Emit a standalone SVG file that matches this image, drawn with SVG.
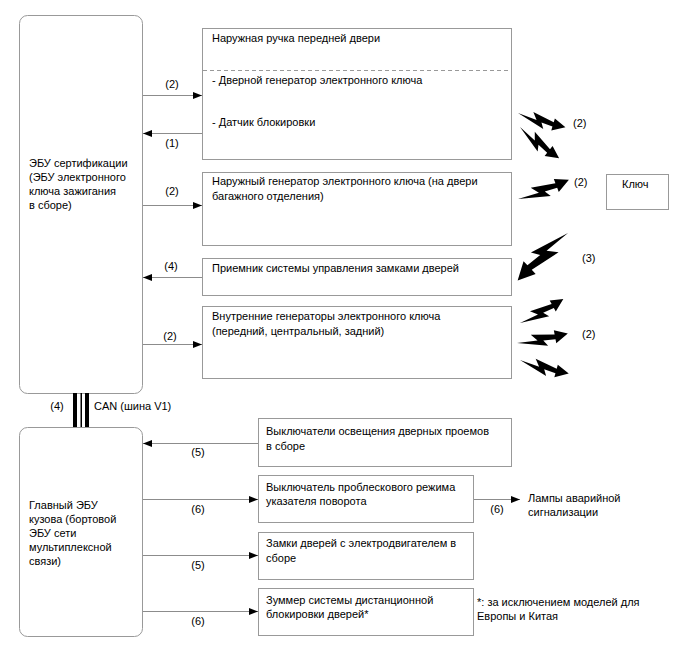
<svg xmlns="http://www.w3.org/2000/svg" width="688" height="658" viewBox="0 0 688 658">
<style>
.box{fill:#fff;stroke:#999;stroke-width:1}
.ecu{fill:#fff;stroke:#999;stroke-width:1}
.t{font-family:"Liberation Sans",Arial,sans-serif;font-size:11px;fill:#000}
.ln{stroke:#8c8c8c;stroke-width:1;fill:none}
.dash{stroke:#999;stroke-width:1;stroke-dasharray:4 3;fill:none}
.bolt{fill:#000}
</style>
<defs>
<marker id="ah" markerUnits="userSpaceOnUse" markerWidth="10" markerHeight="8" refX="9" refY="3.5" orient="auto">
<path d="M0,0 L9,3.5 L0,7 Z" fill="#000"/>
</marker>
<path id="bolt" d="M0,0 L32,9 L28,2.5 L41,3.5 L41,8 L55,0 L41,-6 L41,-1.5 L16,-6 L22,1.5 Z"/>
</defs>
<rect width="688" height="658" fill="#fff"/>

<g id="ecu-cert">
<rect class="ecu" x="19.5" y="15.5" width="123" height="378" rx="8"/>
<text class="t" x="29" y="167">ЭБУ сертификации</text>
<text class="t" x="29" y="181">(ЭБУ электронного</text>
<text class="t" x="29" y="195">ключа зажигания</text>
<text class="t" x="29" y="209">в сборе)</text>
</g>

<g id="ecu-body">
<rect class="ecu" x="19.5" y="427.5" width="123" height="209" rx="8"/>
<text class="t" x="29" y="509">Главный ЭБУ</text>
<text class="t" x="29" y="523">кузова (бортовой</text>
<text class="t" x="29" y="537">ЭБУ сети</text>
<text class="t" x="29" y="551">мультиплексной</text>
<text class="t" x="29" y="565">связи)</text>
</g>

<g id="handle">
<rect class="box" x="202.5" y="28.5" width="309" height="131"/>
<line class="dash" x1="203" y1="70.5" x2="511" y2="70.5"/>
<text class="t" x="212" y="42">Наружная ручка передней двери</text>
<text class="t" x="212" y="84">- Дверной генератор электронного ключа</text>
<text class="t" x="212" y="126">- Датчик блокировки</text>
</g>

<g id="rear-gen">
<rect class="box" x="202.5" y="172.5" width="309" height="73"/>
<text class="t" x="212" y="185">Наружный генератор электронного ключа (на двери</text>
<text class="t" x="212" y="200">багажного отделения)</text>
</g>

<g id="receiver">
<rect class="box" x="202.5" y="258.5" width="309" height="37"/>
<text class="t" x="212" y="272">Приемник системы управления замками дверей</text>
</g>

<g id="inner-gen">
<rect class="box" x="202.5" y="306.5" width="309" height="72"/>
<text class="t" x="212" y="320">Внутренние генераторы электронного ключа</text>
<text class="t" x="212" y="335">(передний, центральный, задний)</text>
</g>

<g id="key">
<rect class="box" x="606.5" y="174.5" width="62" height="35"/>
<text class="t" x="622" y="188">Ключ</text>
</g>

<g id="courtesy">
<rect class="box" x="258.5" y="418.5" width="253" height="48"/>
<text class="t" x="266" y="435">Выключатели освещения дверных проемов</text>
<text class="t" x="266" y="450">в сборе</text>
</g>

<g id="hazard-sw">
<rect class="box" x="258.5" y="475.5" width="215" height="47"/>
<text class="t" x="266" y="491">Выключатель проблескового режима</text>
<text class="t" x="266" y="505">указателя поворота</text>
</g>

<g id="hazard-lamps">
<text class="t" x="528" y="502">Лампы аварийной</text>
<text class="t" x="528" y="516">сигнализации</text>
</g>

<g id="door-locks">
<rect class="box" x="258.5" y="532.5" width="215" height="47"/>
<text class="t" x="266" y="547">Замки дверей с электродвигателем в</text>
<text class="t" x="266" y="562">сборе</text>
</g>

<g id="buzzer">
<rect class="box" x="258.5" y="588.5" width="215" height="47"/>
<text class="t" x="266" y="604">Зуммер системы дистанционной</text>
<text class="t" x="266" y="618">блокировки дверей*</text>
</g>

<g id="footnote">
<text class="t" x="477" y="606">*: за исключением моделей для</text>
<text class="t" x="477" y="620">Европы и Китая</text>
</g>

<g id="connectors">
<line class="ln" x1="143" y1="95.5" x2="202" y2="95.5" marker-end="url(#ah)"/>
<text class="t" x="172" y="88" text-anchor="middle">(2)</text>
<line class="ln" x1="202" y1="133.5" x2="143" y2="133.5" marker-end="url(#ah)"/>
<text class="t" x="172" y="147" text-anchor="middle">(1)</text>
<line class="ln" x1="143" y1="205.5" x2="202" y2="205.5" marker-end="url(#ah)"/>
<text class="t" x="172" y="195" text-anchor="middle">(2)</text>
<line class="ln" x1="202" y1="277.5" x2="143" y2="277.5" marker-end="url(#ah)"/>
<text class="t" x="171" y="270" text-anchor="middle">(4)</text>
<line class="ln" x1="143" y1="344.5" x2="202" y2="344.5" marker-end="url(#ah)"/>
<text class="t" x="170" y="340" text-anchor="middle">(2)</text>

<rect x="73" y="393" width="4" height="34" fill="#000"/>
<rect x="80.5" y="393" width="1.5" height="34" fill="#000"/>
<rect x="85" y="393" width="4" height="34" fill="#000"/>
<text class="t" x="57" y="410" text-anchor="middle">(4)</text>
<text class="t" x="94" y="410">CAN (шина V1)</text>

<line class="ln" x1="258" y1="443.5" x2="143" y2="443.5" marker-end="url(#ah)"/>
<text class="t" x="198" y="456" text-anchor="middle">(5)</text>
<line class="ln" x1="143" y1="499.5" x2="258" y2="499.5" marker-end="url(#ah)"/>
<text class="t" x="198" y="513" text-anchor="middle">(6)</text>
<line class="ln" x1="474" y1="499.5" x2="520" y2="499.5" marker-end="url(#ah)"/>
<text class="t" x="497" y="513" text-anchor="middle">(6)</text>
<line class="ln" x1="143" y1="555.5" x2="258" y2="555.5" marker-end="url(#ah)"/>
<text class="t" x="198" y="569" text-anchor="middle">(5)</text>
<line class="ln" x1="143" y1="611.5" x2="258" y2="611.5" marker-end="url(#ah)"/>
<text class="t" x="198" y="625" text-anchor="middle">(6)</text>

<use class="bolt" href="#bolt" transform="translate(518,113) rotate(16.7) scale(0.9)"/>
<use class="bolt" href="#bolt" transform="translate(520,127) rotate(38.6) scale(0.91)"/>
<text class="t" x="573" y="127">(2)</text>
<use class="bolt" href="#bolt" transform="translate(518,199) rotate(-20.8) scale(0.99)"/>
<text class="t" x="574" y="186">(2)</text>
<use class="bolt" href="#bolt" transform="translate(568,233) rotate(136.6) scale(1.26)"/>
<text class="t" x="582" y="262">(3)</text>
<use class="bolt" href="#bolt" transform="translate(520,323) rotate(-28.9) scale(0.9)"/>
<use class="bolt" href="#bolt" transform="translate(517,343) rotate(-10.6) scale(0.94)"/>
<use class="bolt" href="#bolt" transform="translate(520,360) rotate(15.6) scale(0.92)"/>
<text class="t" x="582" y="338">(2)</text>
</g>
</svg>
